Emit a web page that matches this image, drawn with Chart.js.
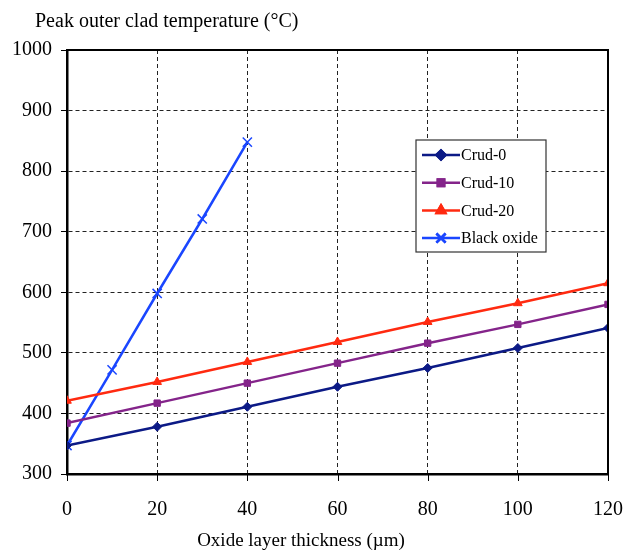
<!DOCTYPE html>
<html>
<head>
<meta charset="utf-8">
<script src="https://cdn.jsdelivr.net/npm/chart.js@4.4.0/dist/chart.umd.min.js"></script>
<style>
  html, body { margin: 0; padding: 0; background: #fff; }
  #wrap { width: 623px; height: 553px; position: relative; }
</style>
</head>
<body>
<div id="wrap"><canvas id="grafico"></canvas></div>
<script>
// datos
const espesor = [0, 20, 40, 60, 80, 100, 120];
const crud0 = [347, 378, 411, 444, 475, 508, 541];
const crud10 = [384, 417, 450, 483, 516, 547, 580];
const crud20 = [421, 452, 485, 518, 551, 582, 615];
const espesorNegro = [0, 10, 20, 30, 40];
const oxidoNegro = [347, 472, 598, 721, 848];

const tituloY = 'Peak outer clad temperature (°C)';
const tituloX = 'Oxide layer thickness (µm)';
const serif = '"Liberation Serif", "DejaVu Serif", serif';

function puntos(xs, ys) {
    return xs.map((x, i) => ({ x: x, y: ys[i] }));
}

function serie(label, xs, ys, color, estilo, radio) {
    return {
        label: label,
        data: puntos(xs, ys),
        borderColor: color,
        backgroundColor: color,
        borderWidth: 2.5,
        pointStyle: estilo,
        pointRadius: radio,
        pointBorderWidth: estilo === 'crossRot' ? 1.5 : 1,
        tension: 0
    };
}

// marco, marcas del eje x, titulos y leyenda dentro del area
const extras = {
    id: 'extras',
    afterDraw(chart) {
        const ctx = chart.ctx;
        const a = chart.chartArea;
        const sx = chart.scales.x;
        ctx.save();
        ctx.strokeStyle = '#000';
        ctx.lineWidth = 2;
        ctx.beginPath();
        ctx.moveTo(a.left, a.top);
        ctx.lineTo(a.right, a.top);
        ctx.lineTo(a.right, a.bottom);
        ctx.stroke();

        ctx.lineWidth = 1;
        sx.ticks.forEach(t => {
            const px = Math.round(sx.getPixelForValue(t.value)) + 0.5;
            ctx.beginPath();
            ctx.moveTo(px, a.bottom);
            ctx.lineTo(px, a.bottom + 7);
            ctx.stroke();
        });

        ctx.fillStyle = '#000';
        ctx.font = '20px ' + serif;
        ctx.textBaseline = 'middle';
        ctx.textAlign = 'left';
        ctx.fillText(tituloY, 35, 22);
        ctx.font = '19px ' + serif;
        ctx.textAlign = 'center';
        ctx.fillText(tituloX, 301, 541);

        // leyenda
        const lx = 416, ly = 140, lw = 130, lh = 112;
        ctx.fillStyle = '#fff';
        ctx.fillRect(lx, ly, lw, lh);
        ctx.strokeStyle = '#333';
        ctx.lineWidth = 1.2;
        ctx.strokeRect(lx, ly, lw, lh);
        ctx.font = '16px ' + serif;
        ctx.textAlign = 'left';
        chart.data.datasets.forEach((ds, i) => {
            const y = 155 + i * 27.7;
            ctx.strokeStyle = ds.borderColor;
            ctx.lineWidth = 2.5;
            ctx.beginPath();
            ctx.moveTo(422, y);
            ctx.lineTo(460, y);
            ctx.stroke();
            Chart.helpers.drawPoint(ctx, {
                pointStyle: ds.pointStyle,
                radius: ds.pointRadius,
                rotation: 0,
                borderWidth: ds.pointBorderWidth
            }, 441, y);
            ctx.fillStyle = ds.borderColor;
            ctx.strokeStyle = ds.borderColor;
            ctx.fill();
            ctx.stroke();
            ctx.fillStyle = '#000';
            ctx.fillText(ds.label, 461, y + 1);
        });
        ctx.restore();
    }
};

const ctx = document.getElementById('grafico').getContext('2d');
new Chart(ctx, {
    type: 'line',
    data: {
        datasets: [
            serie('Crud-0', espesor, crud0, '#0c1a86', 'rectRot', 4.5),
            serie('Crud-10', espesor, crud10, '#84248a', 'rect', 4.5),
            serie('Crud-20', espesor, crud20, '#ff2a10', 'triangle', 5),
            serie('Black oxide', espesorNegro, oxidoNegro, '#1a46ff', 'crossRot', 6.5)
        ]
    },
    options: {
        responsive: true,
        maintainAspectRatio: false,
        animation: false,
        layout: { padding: { top: 50, right: 0, left: 3, bottom: 31 } },
        plugins: {
            legend: { display: false },
            tooltip: { enabled: false }
        },
        scales: {
            x: {
                type: 'linear',
                min: 0,
                max: 120,
                ticks: { stepSize: 20, color: '#000', padding: 0, font: { family: serif, size: 20 } },
                grid: { color: '#222', lineWidth: 1, tickLength: 24, tickColor: 'rgba(0,0,0,0)' },
                border: { color: '#000', width: 2.5, dash: [4, 3] }
            },
            y: {
                min: 300,
                max: 1000,
                ticks: {
                    stepSize: 100, color: '#000', padding: 9, font: { family: serif, size: 20 },
                    callback: v => String(v)
                },
                grid: { color: '#222', lineWidth: 1, tickLength: 6, tickColor: '#000' },
                border: { color: '#000', width: 2.5, dash: [4, 3] }
            }
        }
    },
    plugins: [extras]
});
</script>
</body>
</html>
